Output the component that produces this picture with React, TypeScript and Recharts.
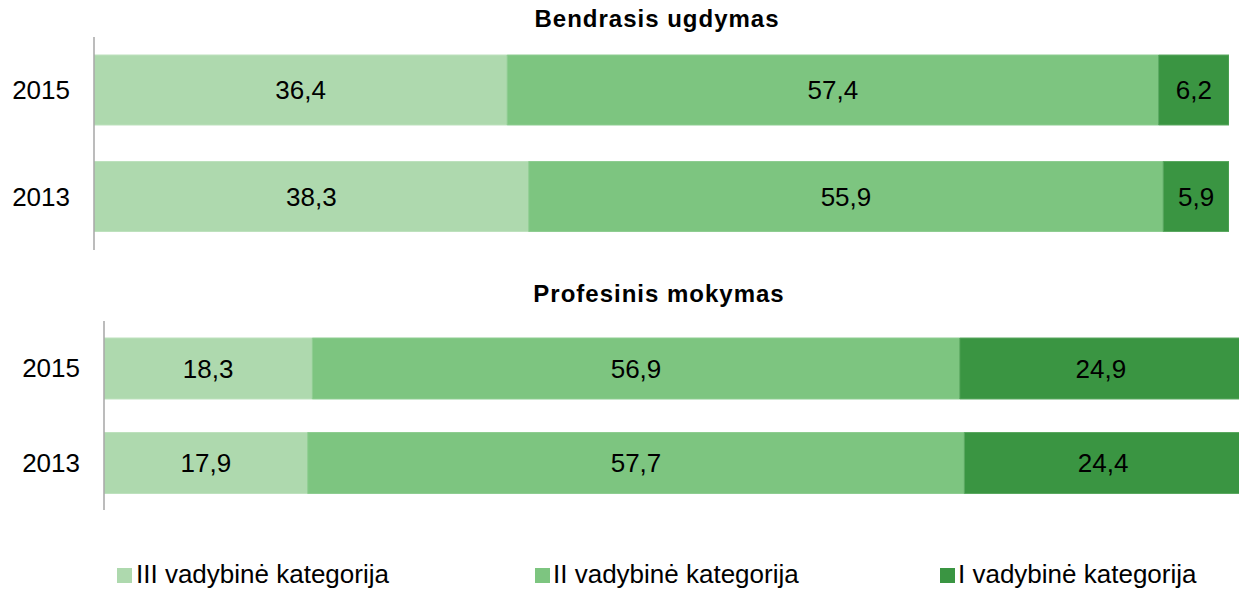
import React from 'react';
import { BarChart, Bar, XAxis, YAxis, LabelList } from 'recharts';

const years = ['2015', '2013'];
const generalIII = [36.4, 38.3];
const generalII = [57.4, 55.9];
const generalI = [6.2, 5.9];
const vocIII = [18.3, 17.9];
const vocII = [56.9, 57.7];
const vocI = [24.9, 24.4];
const seriesNames = ['III vadybinė kategorija', 'II vadybinė kategorija', 'I vadybinė kategorija'];
const titles = ['Bendrasis ugdymas', 'Profesinis mokymas'];
const colors = ['#AED9AE', '#7DC580', '#3A9542'];
const strokes = ['#BDE1BD', '#8ECD91', '#5AA860'];

const FONT = '"Liberation Sans", Arial, sans-serif';

const generalData = years.map((y, i) => ({ year: y, c3: generalIII[i], c2: generalII[i], c1: generalI[i] }));
const vocData = years.map((y, i) => ({ year: y, c3: vocIII[i], c2: vocII[i], c1: vocI[i] }));

const fmt = (v: any) => String(v).replace('.', ',');

function renderBars(barSize: number) {
  const keys = ['c3', 'c2', 'c1'];
  return keys.map((k, i) => (
    <Bar
      key={k}
      dataKey={k}
      stackId="a"
      name={seriesNames[i]}
      fill={colors[i]}
      stroke={strokes[i]}
      strokeWidth={1}
      barSize={barSize}
      isAnimationActive={false}
    >
      <LabelList dataKey={k} position="center" formatter={fmt} fill="#000" fontSize={26} fontFamily={FONT} />
    </Bar>
  ));
}

export default function App() {
  return (
    <div style={{ position: 'absolute', left: 0, top: 0, width: 1239, height: 589, overflow: 'hidden', background: '#fff', fontFamily: FONT }}>
      <div style={{ position: 'absolute', left: 0, top: 0 }}>
        <BarChart width={1239} height={260} data={generalData} layout="vertical" margin={{ top: 37, right: 10, bottom: 10, left: 0 }}>
          <XAxis type="number" domain={[0, 100]} allowDataOverflow hide />
          <YAxis
            type="category"
            dataKey="year"
            width={94}
            axisLine={{ stroke: '#A6A6A6', strokeWidth: 1.5 }}
            tickLine={false}
            tickSize={0}
            tickMargin={24}
            tick={{ fill: '#000', fontSize: 26, fontFamily: FONT }}
          />
          {renderBars(70)}
        </BarChart>
      </div>
      <div style={{ position: 'absolute', left: 0, top: 300 }}>
        <BarChart width={1245} height={230} data={vocData} layout="vertical" margin={{ top: 21, right: 3, bottom: 20, left: 0 }}>
          <XAxis type="number" domain={[0, 100]} allowDataOverflow hide />
          <YAxis
            type="category"
            dataKey="year"
            width={104}
            axisLine={{ stroke: '#A6A6A6', strokeWidth: 1.5 }}
            tickLine={false}
            tickSize={0}
            tickMargin={24}
            tick={{ fill: '#000', fontSize: 26, fontFamily: FONT }}
          />
          {renderBars(61)}
        </BarChart>
      </div>
      <svg width={1239} height={589} style={{ position: 'absolute', left: 0, top: 0, pointerEvents: 'none' }}>
        <text x={657} y={27} textAnchor="middle" fontSize={24} fontWeight="bold" letterSpacing={1} fontFamily={FONT} fill="#000">{titles[0]}</text>
        <text x={659} y={302} textAnchor="middle" fontSize={24} fontWeight="bold" letterSpacing={1} fontFamily={FONT} fill="#000">{titles[1]}</text>
        {[117, 535, 940].map((x, i) => (
          <g key={i}>
            <rect x={x} y={568} width={15} height={15} fill={colors[i]} />
            <text x={x + (i === 0 ? 19 : 18)} y={583} fontSize={26} fontFamily={FONT} fill="#000">{seriesNames[i]}</text>
          </g>
        ))}
      </svg>
    </div>
  );
}
